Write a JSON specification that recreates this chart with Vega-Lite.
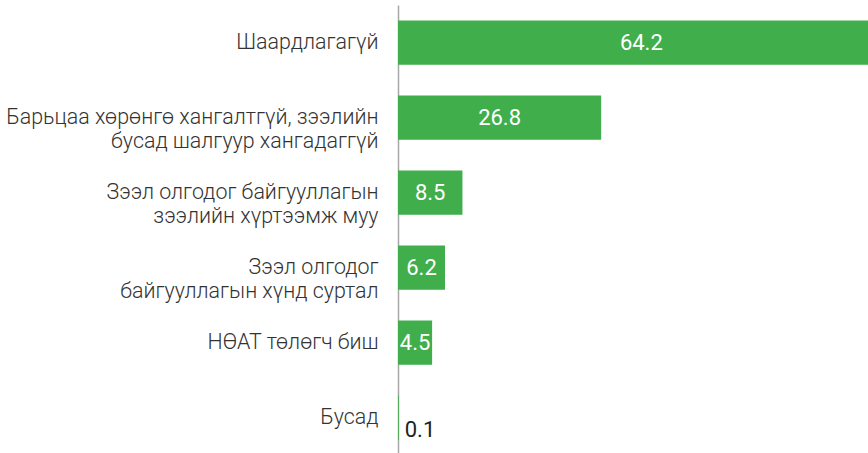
{
  "$schema": "https://vega.github.io/schema/vega-lite/v6.json",
  "autosize": "none",
  "width": 470,
  "height": 450,
  "padding": {"left": 398, "top": 5, "right": 0, "bottom": 0},
  "background": "white",
  "config": {"view": {"stroke": null}, "font": "Roboto"},
  "data": {"values": [
    {"category": "Шаардлагагүй", "value": 64.2},
    {"category": "Барьцаа хөрөнгө хангалтгүй, зээлийн|бусад шалгуур хангадаггүй", "value": 26.8},
    {"category": "Зээл олгодог байгууллагын|зээлийн хүртээмж муу", "value": 8.5},
    {"category": "Зээл олгодог|байгууллагын хүнд суртал", "value": 6.2},
    {"category": "НӨАТ төлөгч биш", "value": 4.5},
    {"category": "Бусад", "value": 0.1}
  ]},
  "encoding": {
    "y": {
      "field": "category", "type": "nominal", "sort": null,
      "scale": {"paddingInner": 0.41, "paddingOuter": 0.205},
      "axis": {
        "title": null, "ticks": false, "labelPadding": 20, "labelLimit": 400,
        "labelFontSize": 21.4, "labelColor": "#333333", "labelFont": "Roboto",
        "labelFontWeight": 300,
        "labelLineHeight": 24,
        "labelExpr": "split(datum.value, '|')",
        "domainColor": "#a6a6a6", "domainWidth": 1.5
      }
    }
  },
  "layer": [
    {
      "mark": {"type": "bar", "color": "#41ae4c", "clip": true},
      "encoding": {
        "x": {"field": "value", "type": "quantitative", "scale": {"domain": [0, 62], "nice": false}, "axis": null}
      }
    },
    {
      "transform": [{"filter": "datum.value > 1"}, {"calculate": "datum.value / 2", "as": "mid"}],
      "mark": {"type": "text", "color": "white", "fontSize": 22, "fontWeight": 400, "align": "center", "baseline": "middle", "font": "Roboto"},
      "encoding": {
        "x": {"field": "mid", "type": "quantitative"},
        "text": {"field": "value", "type": "quantitative", "format": ".1f"}
      }
    },
    {
      "transform": [{"filter": "datum.value <= 1"}],
      "mark": {"type": "text", "color": "#222222", "fontSize": 22, "fontWeight": 400, "align": "left", "baseline": "middle", "dx": 6, "dy": 12, "font": "Roboto"},
      "encoding": {
        "x": {"field": "value", "type": "quantitative"},
        "text": {"field": "value", "type": "quantitative", "format": ".1f"}
      }
    }
  ]
}
